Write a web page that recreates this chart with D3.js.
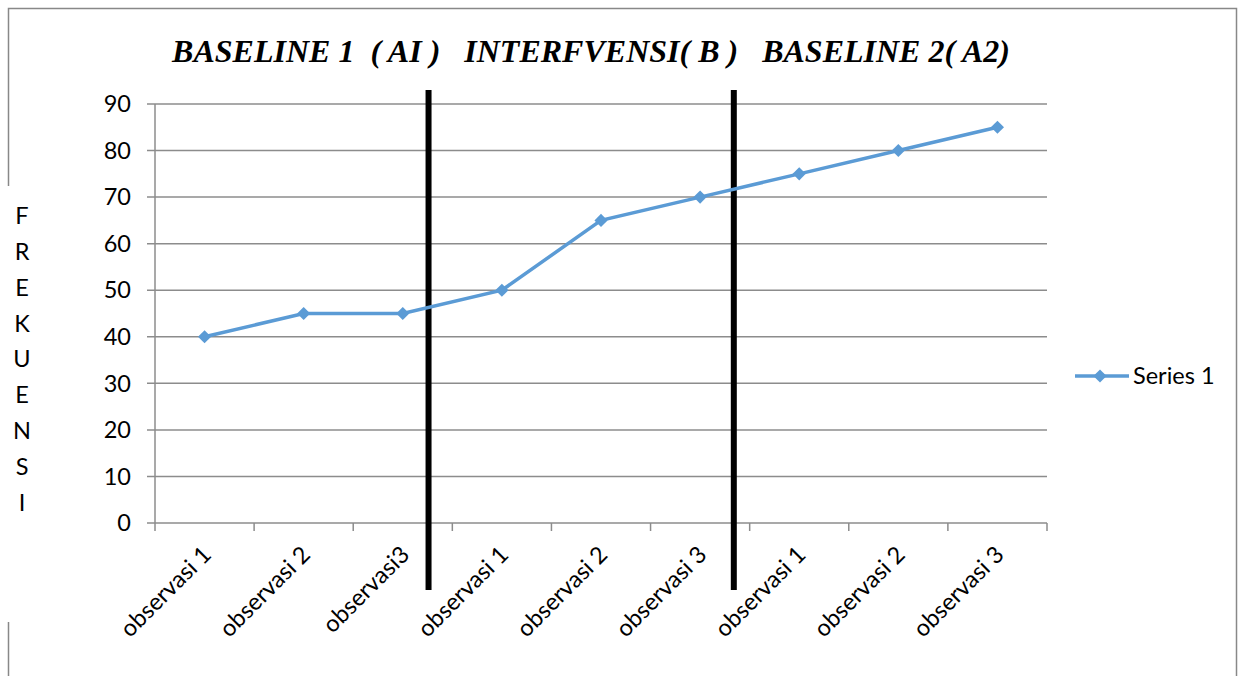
<!DOCTYPE html>
<html><head><meta charset="utf-8">
<script src="https://cdn.jsdelivr.net/npm/d3@7"></script>
<style>body{margin:0;background:#fff}svg{display:block}</style>
</head><body>
<script>
const categories = ["observasi 1","observasi 2","observasi3","observasi 1","observasi 2","observasi 3","observasi 1","observasi 2","observasi 3"];
const seriesName = "Series 1";
const values = [40,45,45,50,65,70,75,80,85];
const yTicks = [0,10,20,30,40,50,60,70,80,90];
const dividers = [2.76, 5.84]; // phase dividers, in category units
const title = "BASELINE 1  ( AI )   INTERFVENSI( B )   BASELINE 2( A2)";
const yLabel = "FREKUENSI".split("");

(function(){
const W = 1244, H = 676;
const svg = d3.select("body").append("svg").attr("width", W).attr("height", H);
const font = "Lato, 'Open Sans', sans-serif";
const fs = 23.5;

// border
svg.append("rect").attr("x", 8.5).attr("y", 8.5).attr("width", 1228).attr("height", 700)
  .attr("fill", "none").attr("stroke", "#888").attr("stroke-width", 1.5);
svg.append("rect").attr("x", 4).attr("y", 186).attr("width", 10).attr("height", 436).attr("fill", "#fff");

const pL = 155, pR = 1047, pT = 104, pB = 523;
const x = d3.scaleBand().domain(d3.range(categories.length)).range([pL, pR]).padding(0);
const y = d3.scaleLinear().domain([0, 90]).range([pB, pT]);

// gridlines
svg.append("g").selectAll("line").data(yTicks).join("line")
  .attr("x1", pL - 8).attr("x2", pR).attr("y1", d => y(d)).attr("y2", d => y(d))
  .attr("stroke", "#8c8c8c").attr("stroke-width", 1.5);
// y axis line
svg.append("line").attr("x1", pL).attr("x2", pL).attr("y1", pT).attr("y2", pB)
  .attr("stroke", "#8c8c8c").attr("stroke-width", 1.5);
// x ticks
const xb = d3.range(categories.length + 1).map(i => pL + i * x.step());
svg.append("g").selectAll("line").data(xb).join("line")
  .attr("x1", d => d).attr("x2", d => d).attr("y1", pB).attr("y2", pB + 8)
  .attr("stroke", "#8c8c8c").attr("stroke-width", 1.5);

// y labels
svg.append("g").selectAll("text").data(yTicks).join("text")
  .attr("x", 131).attr("y", d => y(d)).attr("dy", "0.35em").attr("text-anchor", "end")
  .attr("font-family", font).attr("font-size", fs).attr("fill", "#000").text(d => d);

// x labels
svg.append("g").selectAll("text").data(categories).join("text")
  .attr("text-anchor", "end").attr("font-family", font).attr("font-size", fs).attr("fill", "#000")
  .attr("transform", (d, i) => `translate(${x(i) + x.bandwidth() / 2 + 8},${pB + 33}) rotate(-45)`)
  .text(d => d);

// dividers
svg.append("g").selectAll("line").data(dividers).join("line")
  .attr("x1", d => pL + d * x.step()).attr("x2", d => pL + d * x.step())
  .attr("y1", 90).attr("y2", 590).attr("stroke", "#000").attr("stroke-width", 6);

// series
const cx = i => x(i) + x.bandwidth() / 2;
svg.append("path").datum(values)
  .attr("d", d3.line().x((d, i) => cx(i)).y(d => y(d)))
  .attr("fill", "none").attr("stroke", "#5B9BD5").attr("stroke-width", 3.5);
const diamond = d3.symbol().type(d3.symbolDiamond2).size(110);
svg.append("g").selectAll("path").data(values).join("path")
  .attr("d", diamond).attr("transform", (d, i) => `translate(${cx(i)},${y(d)})`)
  .attr("fill", "#5B9BD5");

// title
svg.append("text").attr("x", 591).attr("y", 62).attr("text-anchor", "middle")
  .attr("font-family", "'Liberation Serif', 'Times New Roman', serif").attr("font-size", 32)
  .attr("font-weight", "bold").attr("font-style", "italic").attr("fill", "#000")
  .style("white-space", "pre").text(title);

// y label (vertical letters)
svg.append("g").selectAll("text").data(yLabel).join("text")
  .attr("x", 22).attr("y", (d, i) => 216 + i * 35.8).attr("dy", "0.35em").attr("text-anchor", "middle")
  .attr("font-family", font).attr("font-size", fs).attr("fill", "#000").text(d => d);

// legend
const lg = svg.append("g");
lg.append("line").attr("x1", 1075).attr("x2", 1129).attr("y1", 376).attr("y2", 376)
  .attr("stroke", "#5B9BD5").attr("stroke-width", 3.5);
lg.append("path").attr("d", diamond).attr("transform", "translate(1100,376)").attr("fill", "#5B9BD5");
lg.append("text").attr("x", 1133).attr("y", 376).attr("dy", "0.35em")
  .attr("font-family", font).attr("font-size", fs).attr("fill", "#000").text(seriesName);
})();
</script>
</body></html>
